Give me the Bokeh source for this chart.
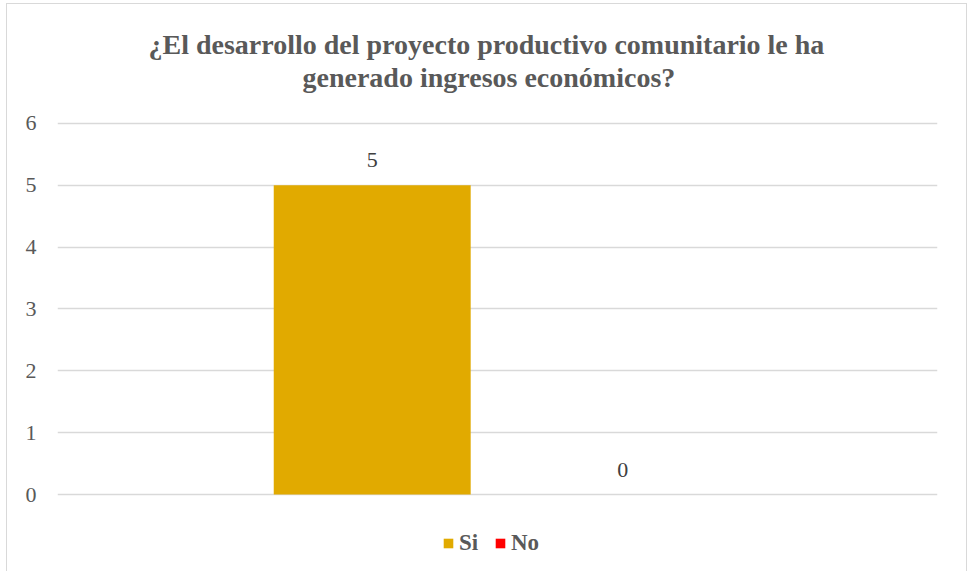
from bokeh.plotting import figure
from bokeh.models import ColumnDataSource, Range1d, FactorRange, Legend, LegendItem, LabelSet, Title
from bokeh.embed import file_html
from bokeh.resources import INLINE

# data
categories = ["Si", "No"]
values = [5, 0]
colors = ["#E1AA00", "#FF0000"]
y_ticks = [0, 1, 2, 3, 4, 5, 6]
title_lines = ["¿El desarrollo del proyecto productivo comunitario le ha",
               "generado ingresos económicos?"]

FONT = "Liberation Serif"
GRAY = "#595959"

source = ColumnDataSource(dict(cat=categories, val=values, color=colors,
                               lbl=[str(v) for v in values]))

# extra space below zero holds the legend inside the frame, extra above 6 separates the title
p = figure(x_range=FactorRange(factors=categories, range_padding=0.756),
           y_range=Range1d(-1.164, 6.5),
           frame_width=880, frame_height=474,
           min_border_left=50, min_border_right=29, min_border_bottom=5, min_border_top=88,
           x_axis_location=None,
           output_backend="svg", toolbar_location=None, title=title_lines[0])

p.styles = {"border-left": "1px solid #d9d9d9", "border-right": "1px solid #d9d9d9",
            "border-top": "1px solid #d9d9d9", "margin-left": "6px", "margin-top": "3px"}

def style_title(t, standoff, offset):
    t.align = "left"
    t.text_font = FONT
    t.text_font_size = "28px"
    t.text_font_style = "bold"
    t.text_color = GRAY
    t.offset = offset
    t.standoff = standoff

style_title(p.title, 0, 91)
t2 = Title(text=title_lines[1])
style_title(t2, 0, 245)
p.add_layout(t2, "above")

r = p.vbar(x="cat", top="val", width=0.786, fill_color="color", line_color=None, source=source)

labels = LabelSet(x="cat", y="val", text="lbl", source=source, text_align="center",
                  text_baseline="bottom", y_offset=18, text_font=FONT,
                  text_font_size="22px", text_color="#404040")
p.add_layout(labels)

items = []
for i, c in enumerate(categories):
    items.append(LegendItem(label=c, renderers=[r], index=i))
legend = Legend(items=items, orientation="horizontal", location=(385, 10),
                glyph_width=12, glyph_height=12, label_standoff=5, spacing=15,
                label_text_font=FONT, label_text_font_size="23px", label_text_font_style="bold",
                label_text_color=GRAY, border_line_color=None, background_fill_alpha=0,
                margin=0, padding=4)
p.add_layout(legend)

p.yaxis.ticker = y_ticks
p.yaxis.axis_line_color = None
p.yaxis.major_tick_line_color = None
p.yaxis.minor_tick_line_color = None
p.yaxis.major_tick_out = 0
p.yaxis.major_tick_in = 0
p.yaxis.major_label_standoff = 21
p.yaxis.major_label_text_font = FONT
p.yaxis.major_label_text_font_size = "22px"
p.yaxis.major_label_text_color = GRAY

p.xgrid.visible = False
p.ygrid.grid_line_color = "#d9d9d9"
p.ygrid.grid_line_width = 1.5
p.outline_line_color = None

open("out.html", "w").write(file_html(p, INLINE))
